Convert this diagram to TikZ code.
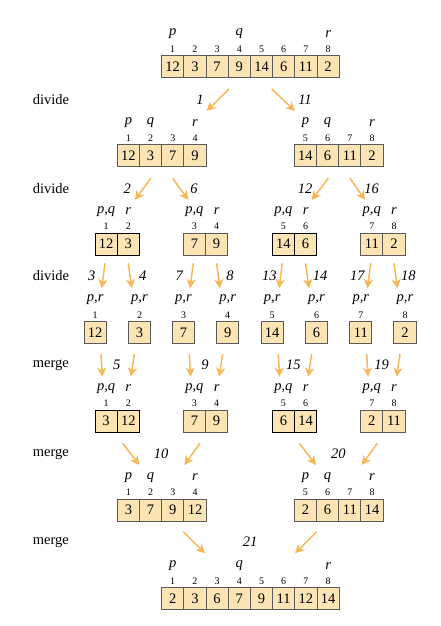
\documentclass[tikz,border=0pt]{standalone}
\usepackage{fontspec}
\setmainfont{Liberation Serif}
\usetikzlibrary{arrows.meta}
\definecolor{cellfill}{RGB}{253,228,180}
\definecolor{cellline}{RGB}{90,90,90}
\definecolor{arrowc}{RGB}{249,183,90}
\tikzset{
  cell/.style={draw=cellline, fill=cellfill, line width=1pt, minimum width=22.2pt, minimum height=22pt, inner sep=0pt, font=\fontsize{14.5}{16}\selectfont},
  dark/.style={draw=black},
  idx/.style={inner sep=0pt, font=\fontsize{10}{11}\selectfont},
  ptr/.style={inner sep=0pt, font=\fontsize{14.5}{16}\selectfont\itshape},
  lbl/.style={inner sep=0pt, font=\fontsize{14.5}{16}\selectfont\itshape},
  phase/.style={anchor=west, inner sep=0pt, font=\fontsize{14.5}{16}\selectfont},
  arr/.style={draw=arrowc, line width=1.5pt, -{Stealth[length=9pt,width=9pt,inset=2.5pt]}},
}
\newcommand\mkrow[6][]{%
  \foreach \cellval [count=\i from 0] in {#5} {%
    \pgfmathsetmacro\cx{#3+11.1+22.2*\i}%
    \pgfmathtruncatemacro\ix{#6+\i}%
    \node[cell,#1] (#2c\i) at (\cx,#4+11) {\cellval};%
    \node[idx] (#2i\i) at (\cx,#4-6.5) {\ix};%
  }}
\newcommand\ptr[3]{\node[ptr] (#1) at ([yshift=32.5pt]#2) {#3};}
\begin{document}
\begin{tikzpicture}[x=1pt,y=-1pt]
\useasboundingbox (0,0) rectangle (440,626);
% phase labels
\node[phase] (ph1) at (32.7,100) {divide};
\node[phase] (ph2) at (32.7,189) {divide};
\node[phase] (ph3) at (32.7,276) {divide};
\node[phase] (ph4) at (32.7,365) {merge};
\node[phase] (ph5) at (32.7,454) {merge};
\node[phase] (ph6) at (32.7,542) {merge};
% row 1
\mkrow{a}{161.6}{55.5}{12,3,7,9,14,6,11,2}{1}
\ptr{ap}{ac0}{p}\ptr{aq}{ac3}{q}\ptr{ar}{ac7}{r}
% row 2
\mkrow{b}{117.3}{144.3}{12,3,7,9}{1}
\mkrow{c}{294.3}{144.3}{14,6,11,2}{5}
\ptr{bp}{bc0}{p}\ptr{bq}{bc1}{q}\ptr{br}{bc3}{r}
\ptr{cp}{cc0}{p}\ptr{cq}{cc1}{q}\ptr{cr}{cc3}{r}
% row 3
\mkrow[dark]{d}{95}{233}{12,3}{1}
\mkrow{e}{183.3}{233}{7,9}{3}
\mkrow[dark]{f}{272.3}{233}{14,6}{5}
\mkrow{g}{360.7}{233}{11,2}{7}
\foreach \rw in {d,e,f,g}{\ptr{\rw pq}{\rw c0}{p,q}\ptr{\rw r}{\rw c1}{r}}
% row 4
\foreach \nn/\xx/\vv in {1/84.1/12,2/128.4/3,3/172.4/7,4/216.6/9,5/261.1/14,6/305.4/6,7/349.7/11,8/393.9/2}{%
  \mkrow{h\nn}{\xx}{321.3}{\vv}{\nn}
  \ptr{h\nn pr}{h\nn c0}{p,r}}
% row 5
\mkrow[dark]{i}{95}{410}{3,12}{1}
\mkrow{j}{183.3}{410}{7,9}{3}
\mkrow[dark]{k}{272.3}{410}{6,14}{5}
\mkrow{l}{360.7}{410}{2,11}{7}
\foreach \rw in {i,j,k,l}{\ptr{\rw pq}{\rw c0}{p,q}\ptr{\rw r}{\rw c1}{r}}
% row 6
\mkrow{m}{117.3}{499}{3,7,9,12}{1}
\mkrow{n}{294.3}{499}{2,6,11,14}{5}
\ptr{mp}{mc0}{p}\ptr{mq}{mc1}{q}\ptr{mr}{mc3}{r}
\ptr{np}{nc0}{p}\ptr{nq}{nc1}{q}\ptr{nr}{nc3}{r}
% row 7
\mkrow{o}{161.6}{587.3}{2,3,6,7,9,11,12,14}{1}
\ptr{op}{oc0}{p}\ptr{oq}{oc3}{q}\ptr{or}{oc7}{r}
% step labels
\foreach \tt/\x/\y in {1/200/100,11/305/100,2/127.3/189,6/194/189,12/305/189,16/371.7/189,
  3/91.7/276,4/142.7/276,7/179.3/276,8/230/276,13/269.3/276,14/320/276,17/357.3/276,18/408.3/276,
  5/116.7/365,9/205/365,15/293.3/365,19/381.7/365,10/161/454,20/338.3/454,21/250/542}{%
  \node[lbl] (L\tt) at (\x,\y) {\tt};}
% arrows
\foreach \n/\xa/\ya/\xb/\yb in {1/229/89/206.7/111, 11/271.7/89/295/111,
  2/150.7/178.3/135/200, 6/172.7/178.3/188.3/200, 12/328.3/178.3/311.7/200, 16/350/178.3/365/200,
  3/105/263.3/101.7/288.3, 4/128.3/263.3/131.7/288.3, 7/193.3/263.3/190/288.3, 8/216.6/263.3/220/288.3,
  13/282.3/263.3/279/288.3, 14/305.6/263.3/309/288.3, 17/370.7/263.3/367.4/288.3, 18/394/263.3/397.4/288.3,
  5a/101/354/102.3/376.7, 5b/134.3/354/131/376.7, 9a/189.3/354/190.6/376.7, 9b/222.6/354/219.3/376.7,
  15a/278.3/354/279.6/376.7, 15b/311.6/354/308.3/376.7, 19a/366.7/354/368/376.7, 19b/400/354/396.7/376.7,
  10a/122.7/443.3/139.3/465, 10b/200/443.3/184.3/465, 20a/299.3/443.3/316/465, 20b/377.3/443.3/361.7/465,
  21a/183.3/531.7/205/553.3, 21b/316.7/531.7/295/553.3}{%
  \coordinate (s\n) at (\xa,\ya);
  \coordinate (t\n) at (\xb,\yb);
  \draw[arr] (s\n) -- (t\n);}
\end{tikzpicture}
\end{document}
